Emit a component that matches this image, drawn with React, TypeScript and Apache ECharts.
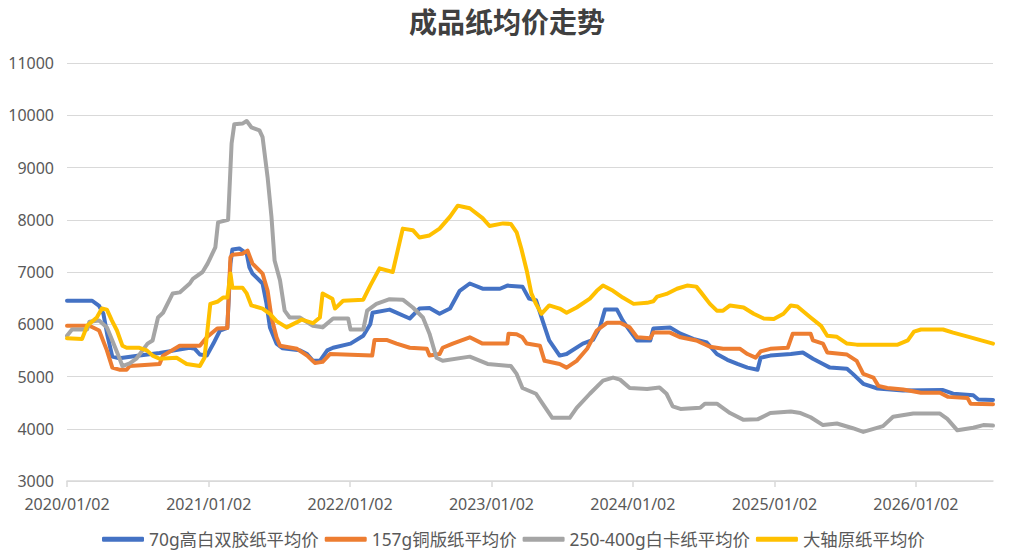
import React, { useEffect, useRef } from "react";
import * as echarts from "echarts";

const TITLE = "成品纸均价走势";
const SERIES_NAMES = ["70g高白双胶纸平均价", "157g铜版纸平均价", "250-400g白卡纸平均价", "大轴原纸平均价"];
const COLORS = ["#4472C4", "#ED7D31", "#A5A5A5", "#FFC000"];
const TICK_DATES = ["2020-01-02", "2021-01-02", "2022-01-02", "2023-01-02", "2024-01-02", "2025-01-02", "2026-01-02"];
const X_MIN = "2020-01-02";
const X_MAX = "2026-07-20";
const Y_MIN = 3000;
const Y_MAX = 11000;
const Y_STEP = 1000;

const woodfree70g: [string, number][] = [
  ["2020-01-02", 6450], ["2020-03-07", 6450], ["2020-03-25", 6350], ["2020-04-05", 6200], ["2020-04-15", 5800],
  ["2020-04-28", 5380], ["2020-05-16", 5350], ["2020-07-07", 5400], ["2020-08-28", 5450], ["2020-10-06", 5500],
  ["2020-11-14", 5550], ["2020-11-27", 5530], ["2020-12-10", 5420], ["2020-12-28", 5400], ["2021-01-14", 5630],
  ["2021-01-31", 5880], ["2021-02-19", 5930], ["2021-02-27", 7160], ["2021-03-04", 7430], ["2021-03-22", 7450],
  ["2021-04-10", 7350], ["2021-04-17", 7090], ["2021-04-25", 6970], ["2021-05-21", 6780], ["2021-05-31", 6400],
  ["2021-06-09", 5940], ["2021-06-26", 5630], ["2021-07-12", 5540], ["2021-08-25", 5500], ["2021-09-13", 5430],
  ["2021-09-28", 5300], ["2021-10-16", 5300], ["2021-11-04", 5500], ["2021-11-19", 5550], ["2022-01-03", 5630],
  ["2022-02-05", 5780], ["2022-02-23", 6000], ["2022-03-01", 6220], ["2022-04-14", 6280], ["2022-06-05", 6110],
  ["2022-06-30", 6300], ["2022-07-26", 6310], ["2022-08-21", 6200], ["2022-09-17", 6300], ["2022-10-12", 6640],
  ["2022-11-07", 6780], ["2022-12-10", 6680], ["2023-01-24", 6680], ["2023-02-12", 6740], ["2023-03-23", 6720],
  ["2023-04-09", 6490], ["2023-04-27", 6460], ["2023-05-14", 6070], ["2023-05-31", 5690], ["2023-06-27", 5400],
  ["2023-07-15", 5430], ["2023-08-26", 5630], ["2023-09-21", 5700], ["2023-10-09", 5940], ["2023-10-22", 6280],
  ["2023-11-22", 6280], ["2023-12-07", 6070], ["2023-12-25", 5880], ["2024-01-13", 5690], ["2024-02-16", 5690],
  ["2024-02-24", 5920], ["2024-04-07", 5940], ["2024-05-04", 5820], ["2024-06-06", 5720], ["2024-07-11", 5650],
  ["2024-08-06", 5430], ["2024-09-02", 5320], ["2024-09-28", 5240], ["2024-10-24", 5170], ["2024-11-19", 5130],
  ["2024-11-27", 5360], ["2024-12-22", 5400], ["2025-02-13", 5430], ["2025-03-16", 5460], ["2025-04-11", 5340],
  ["2025-05-07", 5240], ["2025-05-25", 5170], ["2025-07-08", 5150], ["2025-07-23", 5050], ["2025-08-19", 4860],
  ["2025-09-25", 4770], ["2025-11-30", 4730], ["2026-03-13", 4740], ["2026-04-08", 4670], ["2026-05-30", 4640],
  ["2026-06-12", 4560], ["2026-07-20", 4550],
];

const coated157g: [string, number][] = [
  ["2020-01-02", 5970], ["2020-02-29", 5970], ["2020-03-25", 5880], ["2020-04-14", 5500], ["2020-04-28", 5170],
  ["2020-05-16", 5130], ["2020-06-04", 5130], ["2020-06-12", 5200], ["2020-08-28", 5240], ["2020-09-06", 5400],
  ["2020-10-19", 5590], ["2020-12-10", 5590], ["2020-12-28", 5750], ["2021-01-24", 5920], ["2021-02-19", 5930],
  ["2021-02-27", 7280], ["2021-03-04", 7330], ["2021-03-30", 7350], ["2021-04-12", 7410], ["2021-04-25", 7160],
  ["2021-05-21", 6970], ["2021-06-03", 6640], ["2021-06-13", 6130], ["2021-06-26", 5750], ["2021-07-05", 5590],
  ["2021-08-18", 5530], ["2021-09-13", 5400], ["2021-10-03", 5260], ["2021-10-23", 5280], ["2021-11-11", 5430],
  ["2022-02-28", 5400], ["2022-03-06", 5700], ["2022-04-06", 5700], ["2022-05-02", 5630], ["2022-06-05", 5550],
  ["2022-07-19", 5530], ["2022-07-26", 5400], ["2022-08-21", 5430], ["2022-08-29", 5550], ["2022-09-24", 5630],
  ["2022-11-07", 5750], ["2022-12-10", 5630], ["2023-02-12", 5630], ["2023-02-15", 5820], ["2023-03-08", 5810],
  ["2023-03-23", 5750], ["2023-04-03", 5630], ["2023-05-07", 5590], ["2023-05-19", 5300], ["2023-06-27", 5240],
  ["2023-07-15", 5170], ["2023-08-10", 5300], ["2023-09-06", 5530], ["2023-10-01", 5880], ["2023-10-28", 6030],
  ["2023-11-30", 6030], ["2023-12-25", 5940], ["2024-01-13", 5750], ["2024-02-16", 5730], ["2024-02-24", 5840],
  ["2024-04-07", 5840], ["2024-05-04", 5750], ["2024-06-14", 5690], ["2024-07-19", 5570], ["2024-08-22", 5530],
  ["2024-10-05", 5530], ["2024-10-24", 5430], ["2024-11-14", 5360], ["2024-11-27", 5480], ["2024-12-22", 5530],
  ["2025-02-05", 5550], ["2025-02-18", 5820], ["2025-04-05", 5820], ["2025-04-11", 5690], ["2025-05-07", 5630],
  ["2025-05-18", 5460], ["2025-07-08", 5420], ["2025-08-02", 5300], ["2025-08-19", 5050], ["2025-09-14", 4980],
  ["2025-09-27", 4820], ["2025-10-20", 4780], ["2025-11-30", 4750], ["2026-01-15", 4690], ["2026-03-05", 4690],
  ["2026-03-26", 4610], ["2026-05-15", 4590], ["2026-05-23", 4480], ["2026-07-20", 4470],
];

const ivory250g: [string, number][] = [
  ["2020-01-02", 5780], ["2020-01-15", 5900], ["2020-02-23", 5900], ["2020-02-29", 6050], ["2020-03-25", 6070],
  ["2020-04-14", 5940], ["2020-04-28", 5690], ["2020-05-16", 5360], ["2020-05-24", 5200], ["2020-06-12", 5250],
  ["2020-06-29", 5340], ["2020-07-28", 5630], ["2020-08-10", 5690], ["2020-08-24", 6130], ["2020-09-06", 6220],
  ["2020-10-01", 6590], ["2020-10-19", 6610], ["2020-11-14", 6780], ["2020-11-22", 6870], ["2020-12-17", 7000],
  ["2020-12-30", 7160], ["2021-01-19", 7470], ["2021-01-26", 7950], ["2021-02-21", 8000], ["2021-03-02", 9460],
  ["2021-03-09", 9830], ["2021-03-30", 9840], ["2021-04-10", 9890], ["2021-04-22", 9770], ["2021-05-13", 9710],
  ["2021-05-21", 9580], ["2021-06-03", 8810], ["2021-06-13", 8050], ["2021-06-21", 7220], ["2021-07-05", 6840],
  ["2021-07-17", 6260], ["2021-07-30", 6130], ["2021-08-25", 6130], ["2021-09-28", 5970], ["2021-10-23", 5940],
  ["2021-11-19", 6110], ["2021-12-28", 6110], ["2022-01-03", 5900], ["2022-02-05", 5900], ["2022-02-15", 6260],
  ["2022-03-11", 6390], ["2022-04-14", 6480], ["2022-05-18", 6470], ["2022-06-13", 6320], ["2022-07-09", 6130],
  ["2022-07-26", 5820], ["2022-08-13", 5360], ["2022-08-29", 5300], ["2022-11-07", 5380], ["2022-12-23", 5240],
  ["2023-02-21", 5200], ["2023-03-08", 5050], ["2023-03-23", 4780], ["2023-04-27", 4670], ["2023-05-14", 4480],
  ["2023-06-08", 4210], ["2023-07-23", 4210], ["2023-08-10", 4400], ["2023-09-13", 4670], ["2023-10-17", 4920],
  ["2023-11-12", 4980], ["2023-11-30", 4940], ["2023-12-25", 4780], ["2024-02-08", 4760], ["2024-03-11", 4790],
  ["2024-03-29", 4670], ["2024-04-14", 4430], ["2024-05-04", 4380], ["2024-06-24", 4400], ["2024-07-06", 4480],
  ["2024-08-06", 4480], ["2024-09-09", 4300], ["2024-10-14", 4170], ["2024-11-19", 4180], ["2024-12-22", 4300],
  ["2025-02-13", 4330], ["2025-03-10", 4300], ["2025-04-05", 4220], ["2025-05-07", 4070], ["2025-06-12", 4100],
  ["2025-07-23", 4010], ["2025-08-19", 3940], ["2025-10-09", 4050], ["2025-11-04", 4230], ["2025-12-26", 4290],
  ["2026-03-05", 4290], ["2026-03-24", 4190], ["2026-04-19", 3970], ["2026-05-30", 4020], ["2026-06-25", 4070],
  ["2026-07-20", 4060],
];

const linerboard: [string, number][] = [
  ["2020-01-02", 5730], ["2020-02-10", 5720], ["2020-02-23", 5970], ["2020-03-19", 6130], ["2020-04-01", 6300],
  ["2020-04-14", 6280], ["2020-04-27", 6070], ["2020-05-10", 5880], ["2020-05-24", 5590], ["2020-06-04", 5550],
  ["2020-07-07", 5550], ["2020-07-26", 5500], ["2020-08-10", 5400], ["2020-08-28", 5340], ["2020-10-11", 5360],
  ["2020-10-24", 5300], ["2020-11-06", 5240], ["2020-12-10", 5200], ["2020-12-22", 5360], ["2021-01-06", 6390],
  ["2021-01-24", 6430], ["2021-02-08", 6510], ["2021-02-19", 6510], ["2021-02-27", 6970], ["2021-03-04", 6700],
  ["2021-03-30", 6700], ["2021-04-10", 6590], ["2021-04-22", 6360], ["2021-05-21", 6300], ["2021-06-09", 6200],
  ["2021-06-26", 6060], ["2021-07-22", 5940], ["2021-08-18", 6040], ["2021-08-30", 6090], ["2021-09-28", 6020],
  ["2021-10-16", 6130], ["2021-10-23", 6590], ["2021-11-17", 6490], ["2021-11-24", 6300], ["2021-12-15", 6450],
  ["2022-02-05", 6470], ["2022-02-23", 6740], ["2022-03-19", 7070], ["2022-04-22", 7000], ["2022-05-18", 7830],
  ["2022-06-13", 7800], ["2022-06-30", 7660], ["2022-07-26", 7700], ["2022-08-21", 7830], ["2022-09-17", 8060],
  ["2022-10-07", 8270], ["2022-10-20", 8250], ["2022-11-07", 8220], ["2022-12-10", 8030], ["2022-12-28", 7880],
  ["2023-02-01", 7930], ["2023-02-21", 7920], ["2023-03-08", 7760], ["2023-03-20", 7450], ["2023-04-03", 7030],
  ["2023-04-15", 6590], ["2023-04-27", 6390], ["2023-05-11", 6200], ["2023-05-31", 6360], ["2023-06-27", 6300],
  ["2023-07-15", 6220], ["2023-08-10", 6320], ["2023-09-13", 6490], ["2023-10-01", 6640], ["2023-10-17", 6740],
  ["2023-11-12", 6640], ["2023-12-07", 6510], ["2024-01-04", 6390], ["2024-02-08", 6410], ["2024-02-24", 6440],
  ["2024-03-05", 6530], ["2024-03-29", 6580], ["2024-04-25", 6680], ["2024-05-21", 6740], ["2024-06-14", 6720],
  ["2024-06-26", 6610], ["2024-07-19", 6390], ["2024-08-06", 6260], ["2024-08-22", 6260], ["2024-09-09", 6360],
  ["2024-10-14", 6320], ["2024-11-09", 6200], ["2024-12-05", 6110], ["2024-12-31", 6100], ["2025-01-25", 6200],
  ["2025-02-13", 6360], ["2025-03-02", 6340], ["2025-04-05", 6130], ["2025-05-02", 5970], ["2025-05-18", 5780],
  ["2025-06-12", 5760], ["2025-07-08", 5630], ["2025-08-02", 5610], ["2025-11-16", 5610], ["2025-12-12", 5690],
  ["2025-12-28", 5860], ["2026-01-15", 5900], ["2026-03-13", 5900], ["2026-04-08", 5840], ["2026-05-23", 5750],
  ["2026-07-20", 5630],
];

const SERIES_DATA = [woodfree70g, coated157g, ivory250g, linerboard];

const FONT = "'Noto Sans', 'Noto Sans CJK SC', sans-serif";

function toTs(s: string): number {
  const [y, m, d] = s.split("-").map(Number);
  return Date.UTC(y, m - 1, d);
}

function fmtDate(v: number): string {
  const d = new Date(v);
  const mm = String(d.getUTCMonth() + 1).padStart(2, "0");
  const dd = String(d.getUTCDate()).padStart(2, "0");
  return `${d.getUTCFullYear()}/${mm}/${dd}`;
}

export default function App() {
  const ref = useRef<HTMLDivElement>(null);
  useEffect(() => {
    if (!ref.current) return;
    const chart = echarts.init(ref.current, undefined, { renderer: "svg" });
    const tickTs = TICK_DATES.map(toTs);
    chart.setOption({
      animation: false,
      backgroundColor: "#ffffff",
      title: {
        text: TITLE,
        left: "center",
        top: 3,
        textStyle: { fontSize: 28, fontWeight: "bold", color: "#404040", fontFamily: FONT },
      },
      legend: {
        data: SERIES_NAMES,
        bottom: 2,
        left: 97,
        icon: "roundRect",
        itemWidth: 42,
        itemHeight: 5,
        itemGap: 6,
        textStyle: { fontSize: 17.4, color: "#595959", fontFamily: FONT },
      },
      grid: { left: 67, right: 21, top: 63, bottom: 74 },
      xAxis: {
        type: "value",
        min: toTs(X_MIN),
        max: toTs(X_MAX),
        splitLine: { show: false },
        axisLine: { show: true, lineStyle: { color: "#d9d9d9", width: 1.5 } },
        axisTick: { show: true, customValues: tickTs, length: 6, lineStyle: { color: "#d9d9d9", width: 1.5 } },
        axisLabel: {
          customValues: tickTs,
          formatter: (v: number) => fmtDate(v),
          fontSize: 16,
          color: "#595959",
          fontFamily: FONT,
          margin: 15,
          showMinLabel: true,
          showMaxLabel: true,
          hideOverlap: false,
        },
      },
      yAxis: {
        type: "value",
        min: Y_MIN,
        max: Y_MAX,
        interval: Y_STEP,
        axisLine: { show: false },
        axisTick: { show: false },
        splitLine: { show: true, lineStyle: { color: "#d9d9d9", width: 1.2 } },
        axisLabel: {
          fontSize: 16,
          color: "#595959",
          fontFamily: FONT,
          margin: 13,
          formatter: (v: number) => String(v),
        },
      },
      series: SERIES_NAMES.map((name, i) => ({
        name,
        type: "line",
        data: SERIES_DATA[i].map(([d, v]) => [toTs(d), v]),
        symbol: "none",
        showSymbol: false,
        color: COLORS[i],
        lineStyle: { width: 4, color: COLORS[i], join: "round", cap: "round" },
        emphasis: { disabled: true },
      })),
    });
    return () => chart.dispose();
  }, []);
  return (
    <div
      ref={ref}
      style={{ position: "fixed", left: 0, top: 0, width: 1014, height: 555, background: "#fff" }}
    />
  );
}
